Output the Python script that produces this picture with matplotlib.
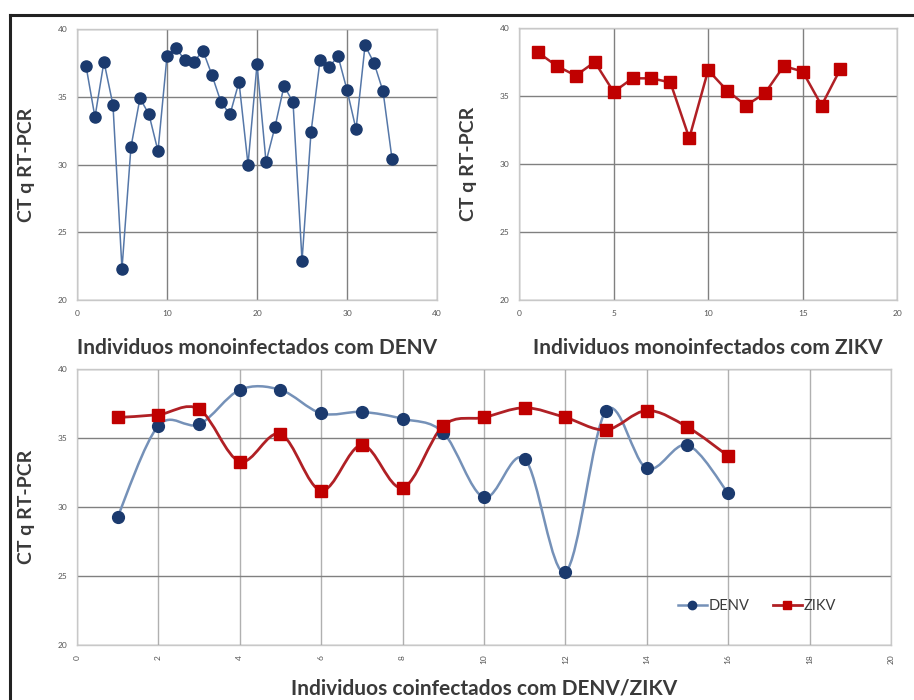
import numpy as np
import matplotlib.pyplot as plt
from matplotlib.lines import Line2D
from matplotlib.path import Path
from matplotlib.patches import PathPatch

plt.rcParams['font.family'] = ['Lato', 'DejaVu Sans']

# monoinfected DENV
denv_x = list(range(1, 36))
denv_ct = [37.3, 33.5, 37.6, 34.4, 22.3, 31.3, 34.9, 33.7, 31.0, 38.0,
           38.6, 37.7, 37.6, 38.4, 36.6, 34.6, 33.7, 36.1, 30.0, 37.4,
           30.2, 32.8, 35.8, 34.6, 22.9, 32.4, 37.7, 37.2, 38.0, 35.5,
           32.6, 38.8, 37.5, 35.4, 30.4]

# monoinfected ZIKV
zikv_x = list(range(1, 18))
zikv_ct = [38.2, 37.2, 36.5, 37.5, 35.3, 36.3, 36.3, 36.0, 31.9, 36.9,
           35.4, 34.3, 35.2, 37.2, 36.8, 34.3, 37.0]

# coinfected DENV/ZIKV
co_x = list(range(1, 17))
co_denv = [29.3, 35.9, 36.0, 38.5, 38.5, 36.8, 36.9, 36.4, 35.4, 30.7,
           33.5, 25.3, 37.0, 32.8, 34.5, 31.0]
co_zikv = [36.5, 36.7, 37.1, 33.3, 35.3, 31.2, 34.5, 31.4, 35.9, 36.5,
           37.2, 36.5, 35.6, 37.0, 35.8, 33.7]

blue_line = '#5577a8'
blue_mark = '#1b3a6e'
blue_smooth = '#7591b8'
red_line = '#b02025'
red_mark = '#c00000'
text_col = '#3a3a3a'


def style_axes(ax, xlim, xticks):
    ax.set_xlim(*xlim)
    ax.set_ylim(20, 40)
    ax.set_xticks(xticks)
    ax.set_yticks([20, 25, 30, 35, 40])
    ax.grid(True, color='#808080', linewidth=1.0)
    ax.set_axisbelow(True)
    for s in ax.spines.values():
        s.set_color('#c8c8c8')
        s.set_linewidth(1.0)
    ax.tick_params(length=0, labelsize=6, labelcolor='#555555', pad=7)
    ax.set_ylabel('CT q RT-PCR', fontsize=14, fontweight='bold', color=text_col,
                  labelpad=16)


def smooth_line(ax, xs, ys, color, lw):
    # Excel-style smoothed line: cubic Bezier through the data points
    p = np.column_stack([xs, ys]).astype(float)
    ext = np.vstack([p[0], p, p[-1]])
    verts = [tuple(p[0])]
    codes = [Path.MOVETO]
    for i in range(len(p) - 1):
        c1 = ext[i + 1] + (ext[i + 2] - ext[i]) / 6.0
        c2 = ext[i + 2] - (ext[i + 3] - ext[i + 1]) / 6.0
        verts += [tuple(c1), tuple(c2), tuple(p[i + 1])]
        codes += [Path.CURVE4] * 3
    ax.add_patch(PathPatch(Path(verts, codes), facecolor='none',
                           edgecolor=color, linewidth=lw, zorder=2))


fig = plt.figure(figsize=(9.14, 7.0), dpi=100)

ax1 = fig.add_axes([0.0842, 0.5714, 0.394, 0.387])
ax1.plot(denv_x, denv_ct, color=blue_line, linewidth=1.1, marker='o',
         markersize=8, markerfacecolor=blue_mark, markeredgecolor=blue_mark)
style_axes(ax1, (0, 40), [0, 10, 20, 30, 40])
ax1.set_xlabel('Individuos monoinfectados com DENV', fontsize=15,
               fontweight='bold', color=text_col, labelpad=15)

ax2 = fig.add_axes([0.568, 0.5714, 0.4136, 0.3886])
ax2.plot(zikv_x, zikv_ct, color=red_line, linewidth=1.8, marker='s',
         markersize=8.5, markerfacecolor=red_mark, markeredgecolor=red_mark)
style_axes(ax2, (0, 20), [0, 5, 10, 15, 20])
ax2.set_xlabel('Individuos monoinfectados com ZIKV', fontsize=15,
               fontweight='bold', color=text_col, labelpad=15)

ax3 = fig.add_axes([0.0842, 0.0786, 0.8906, 0.394])
smooth_line(ax3, co_x, co_denv, blue_smooth, 1.8)
smooth_line(ax3, co_x, co_zikv, red_line, 2.0)
ax3.plot(co_x, co_denv, linestyle='none', marker='o', markersize=8.5,
         markerfacecolor=blue_mark, markeredgecolor=blue_mark, zorder=3)
ax3.plot(co_x, co_zikv, linestyle='none', marker='s', markersize=8.5,
         markerfacecolor=red_mark, markeredgecolor=red_mark, zorder=3)
style_axes(ax3, (0, 20), list(range(0, 21, 2)))
ax3.grid(True, axis='x', color='#b0b0b0', linewidth=1.0)
ax3.tick_params(axis='x', labelrotation=90)
ax3.set_xlabel('Individuos coinfectados com DENV/ZIKV', fontsize=15,
               fontweight='bold', color=text_col, labelpad=10)
handles = [Line2D([], [], color=blue_smooth, linewidth=1.8, marker='o',
                  markersize=6, markerfacecolor=blue_mark, markeredgecolor=blue_mark),
           Line2D([], [], color=red_line, linewidth=2.0, marker='s',
                  markersize=6, markerfacecolor=red_mark, markeredgecolor=red_mark)]
ax3.legend(handles, ['DENV', 'ZIKV'], loc='center', bbox_to_anchor=(0.835, 0.141),
           ncol=2, frameon=False, fontsize=10.5, handlelength=2.0,
           handletextpad=0.1, columnspacing=1.6, labelcolor=text_col)

# outer frame
fig.add_artist(Line2D([10 / 914, 10 / 914], [0, 1 - 15 / 700],
                      color='#222222', linewidth=2.2, transform=fig.transFigure))
fig.add_artist(Line2D([10 / 914, 1], [1 - 15 / 700, 1 - 15 / 700],
                      color='#222222', linewidth=2.2, transform=fig.transFigure))

fig.savefig('out.png', dpi=100)
